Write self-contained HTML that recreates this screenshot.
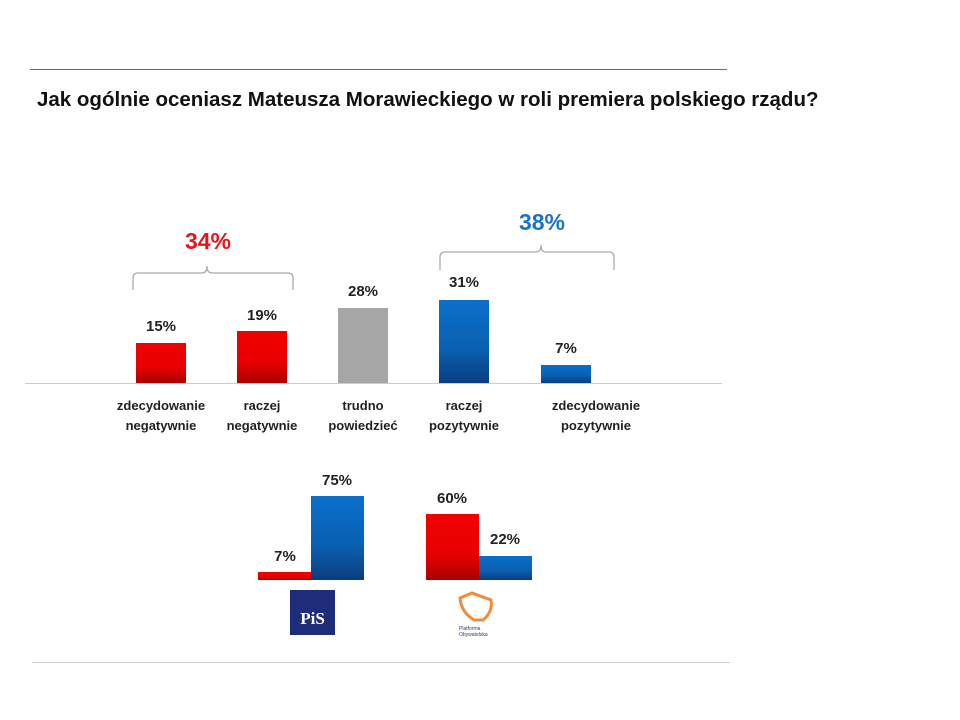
<!DOCTYPE html>
<html><head><meta charset="utf-8"><style>
body{margin:0;width:960px;height:720px;background:#fff;position:relative;font-family:"Liberation Sans","DejaVu Sans",sans-serif;overflow:hidden}
.a{position:absolute}
.r{background:linear-gradient(#f00000,#e80000 60%,#a80000)}
.b{background:linear-gradient(#0a70cc,#0a5fb0 60%,#0a3d80)}
.g{background:#a6a6a6}
.v{position:absolute;font-weight:bold;font-size:15px;color:#222;text-align:center;width:80px}
.l{position:absolute;font-weight:bold;font-size:13px;color:#222;text-align:center;width:110px;line-height:20px}
</style></head><body>
<div class="a" style="left:30px;top:69px;width:697px;height:1px;background:#d04040"></div>
<div class="a" style="left:37px;top:88px;font-size:20.5px;font-weight:bold;color:#111;white-space:nowrap">Jak ogólnie oceniasz Mateusza Morawieckiego w roli premiera polskiego rządu?</div>
<svg class="a" style="left:0;top:0" width="960" height="720">
<path d="M133 290 V278 Q133 273 138 273 H202 Q207 273 207 266 Q207 273 212 273 H288 Q293 273 293 278 V290" fill="none" stroke="#aaa" stroke-width="1.3"/>
<path d="M440 270 V257 Q440 252 445 252 H536 Q541 252 541 245 Q541 252 546 252 H609 Q614 252 614 257 V270" fill="none" stroke="#aaa" stroke-width="1.3"/>
<line x1="25" y1="383.5" x2="722" y2="383.5" stroke="#ccc"/>
<line x1="32" y1="662.5" x2="730" y2="662.5" stroke="#ccc"/>
</svg>
<div class="a" style="left:168px;top:228px;width:80px;text-align:center;font-size:23px;font-weight:bold;color:#e8141c">34%</div>
<div class="a" style="left:502px;top:209px;width:80px;text-align:center;font-size:23px;font-weight:bold;color:#1a73c4">38%</div>
<div class="a r" style="left:136px;top:343px;width:50px;height:40px"></div>
<div class="a r" style="left:237px;top:331px;width:50px;height:52px"></div>
<div class="a g" style="left:338px;top:308px;width:50px;height:75px"></div>
<div class="a b" style="left:439px;top:300px;width:50px;height:83px"></div>
<div class="a b" style="left:541px;top:365px;width:50px;height:18px"></div>
<div class="v" style="left:121px;top:318px">15%</div>
<div class="v" style="left:222px;top:307px">19%</div>
<div class="v" style="left:323px;top:283px">28%</div>
<div class="v" style="left:424px;top:274px">31%</div>
<div class="v" style="left:526px;top:340px">7%</div>
<div class="l" style="left:106px;top:396px">zdecydowanie<br>negatywnie</div>
<div class="l" style="left:207px;top:396px">raczej<br>negatywnie</div>
<div class="l" style="left:308px;top:396px">trudno<br>powiedzieć</div>
<div class="l" style="left:409px;top:396px">raczej<br>pozytywnie</div>
<div class="l" style="left:541px;top:396px">zdecydowanie<br>pozytywnie</div>
<div class="a r" style="left:258px;top:572px;width:53px;height:8px"></div>
<div class="a b" style="left:311px;top:496px;width:53px;height:84px"></div>
<div class="a r" style="left:426px;top:514px;width:53px;height:66px"></div>
<div class="a b" style="left:479px;top:556px;width:53px;height:24px"></div>
<div class="v" style="left:245px;top:548px">7%</div>
<div class="v" style="left:297px;top:472px">75%</div>
<div class="v" style="left:412px;top:490px">60%</div>
<div class="v" style="left:465px;top:531px">22%</div>
<div class="a" style="left:290px;top:590px;width:45px;height:45px;background:#1e2d7a;color:#fff;font-weight:bold;font-family:'Liberation Serif',serif;font-size:17px;text-align:center;line-height:58px">PiS</div>
<svg class="a" style="left:455px;top:590px" width="50" height="50">
<path d="M5 8 L17 3 L36 10 Q38 22 28 30 L19 30 Q6 22 5 8 Z" fill="none" stroke="#f08a3c" stroke-width="3"/>
<text x="4" y="40" font-size="5" fill="#2a3a80" font-family="Liberation Sans">Platforma</text>
<text x="4" y="46" font-size="5" fill="#2a3a80" font-family="Liberation Sans">Obywatelska</text>
</svg>
</body></html>
